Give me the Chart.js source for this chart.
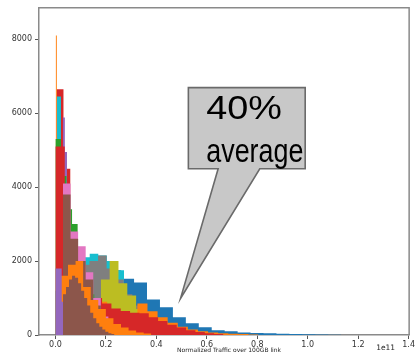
<!DOCTYPE html>
<html>
<head>
<meta charset="utf-8">
<script src="https://cdn.jsdelivr.net/npm/chart.js@4.4.0/dist/chart.umd.min.js"></script>
<style>
  html, body { margin: 0; padding: 0; background: #fff; }
  canvas { display: block; }
</style>
</head>
<body>
<canvas id="histChart" width="416" height="356"></canvas>
<script>
// histogram series, back to front (matplotlib draw order); x in units of 1e11
const seriesNames  = ['blue', 'spike', 'cyanA', 'gray', 'olive', 'orange1', 'red1', 'cyanN', 'purple', 'green', 'red2', 'pink', 'brown', 'orange2', 'purple2', 'brown2'];
const seriesColors = ['#1f77b4', '#ff7f0e', '#17becf', '#7f7f7f', '#bcbd22', '#ff7f0e', '#d62728', '#17becf', '#9467bd', '#2ca02c', '#d62728', '#e377c2', '#8c564b', '#ff7f0e', '#9467bd', '#8c564b'];
const binStarts = [0.004, 0.001, 0.0, 0.101, 0.18, 0.005, 0.005, 0.006, 0.029, 0.0, 0.0, 0.03, 0.03, 0.02, 0.0, 0.03];
const binWidths = [0.0513, 0.005, 0.034, 0.034, 0.035, 0.04, 0.027, 0.016, 0.0085, 0.022, 0.037, 0.03, 0.03, 0.03, 0.025, 0.012];

const blueCounts    = [500, 1350, 1800, 1900, 1750, 1520, 1420, 960, 750, 480, 320, 210, 130, 100, 70, 55, 45, 35, 28, 20, 15, 10];
const spikeCounts   = [8100];
const cyanACounts   = [1200, 1900, 2000, 2100, 2200, 2150, 2000, 1750, 1000, 700, 450, 280, 160, 90, 50, 25];
const grayCounts    = [1900, 2000, 2150, 1800, 1500, 1100, 800, 550, 350, 200, 100, 50];
const oliveCounts   = [1500, 2000, 1400, 1070, 700, 450, 250, 120, 60];
const orange1Counts = [1500, 1950, 1500, 950, 900, 700, 600, 550, 850, 640, 480, 330, 220, 150, 100, 70, 50, 35, 25, 15];
const red1Counts    = [6650, 4500, 3000, 2000, 1300, 900, 600, 400, 250, 150, 80, 40];
const cyanNCounts   = [6450, 3000, 1500, 700, 300];
const purpleCounts  = [5880, 4950, 4000, 3300, 2700, 2200, 1800, 1500, 1250, 1050, 900, 750, 620, 500, 400, 320, 250, 190, 140, 100, 70, 50, 30];
const greenCounts   = [5300, 4300, 3400, 3000, 2200, 1500, 1100, 900, 750, 650, 560, 500, 460, 420, 380, 340, 300, 270, 240, 200, 170, 140, 110, 90, 70, 50, 40, 30, 20];
const red2Counts    = [5100, 1300, 1100, 1000, 1000, 850, 720, 650, 600, 590, 480, 380, 280, 200, 130, 80, 50, 30];
const pinkCounts    = [4100, 2800, 2400, 1700, 1000, 500, 250, 100];
const brownCounts   = [3800, 2600, 2000, 1500, 800, 400, 200, 100];
const orange2Counts = [1600, 1900, 2000, 1300, 950, 700, 450, 300, 200, 120, 70, 40];
const purple2Counts = [1800, 900, 500, 300, 150, 80];
const brown2Counts  = [1100, 1300, 1500, 1600, 1550, 1400, 1200, 1000, 800, 600, 450, 320, 220, 150, 90, 50, 30];

const allCounts = [blueCounts, spikeCounts, cyanACounts, grayCounts, oliveCounts, orange1Counts, red1Counts, cyanNCounts, purpleCounts,
                   greenCounts, red2Counts, pinkCounts, brownCounts, orange2Counts, purple2Counts, brown2Counts];

const xTicks = [0.0, 0.2, 0.4, 0.6, 0.8, 1.0, 1.2, 1.4];
const yTicks = [0, 2000, 4000, 6000, 8000];
const xTitle = 'Normalized Traffic over 100GB link';
const xOffsetText = '1e11';
const calloutLines = ['40%', 'average'];

// callout geometry in data units
const calloutBox = { x0: 0.527, x1: 0.99, y0: 4495, y1: 6690 };
const calloutTail = { xa: 0.645, xb: 0.81, tipX: 0.496, tipY: 990 };
const calloutText = { x: 0.598, y1: 5833, y2: 4682, w1: 0.30, w2: 0.385 };

function histPoints(start, width, counts) {
  const pts = counts.map((c, i) => ({ x: start + i * width, y: c }));
  pts.push({ x: start + counts.length * width, y: 0 });
  return pts;
}

const datasets = allCounts.map((counts, i) => ({
  label: seriesNames[i],
  data: histPoints(binStarts[i], binWidths[i], counts),
  stepped: true,
  fill: 'origin',
  backgroundColor: seriesColors[i],
  borderWidth: 0,
  pointRadius: 0
}));
// chart.js paints the first dataset on top, matplotlib the last
datasets.reverse();

function fitText(ctx, text, x, y, width) {
  const natural = ctx.measureText(text).width;
  ctx.save();
  ctx.translate(x, y);
  ctx.scale(width / natural, 1);
  ctx.fillText(text, 0, 0);
  ctx.restore();
}

const extras = {
  id: 'extras',
  afterDraw(chart) {
    const { ctx, chartArea: a, scales: { x, y } } = chart;
    ctx.save();
    // top and right spines
    ctx.strokeStyle = '#8a8a8a';
    ctx.lineWidth = 1.5;
    ctx.beginPath();
    ctx.moveTo(a.left, a.top); ctx.lineTo(a.right, a.top); ctx.lineTo(a.right, a.bottom);
    ctx.stroke();

    // callout
    const bx0 = x.getPixelForValue(calloutBox.x0), bx1 = x.getPixelForValue(calloutBox.x1);
    const by0 = y.getPixelForValue(calloutBox.y1), by1 = y.getPixelForValue(calloutBox.y0);
    ctx.beginPath();
    ctx.moveTo(bx0, by0);
    ctx.lineTo(bx1, by0);
    ctx.lineTo(bx1, by1);
    ctx.lineTo(x.getPixelForValue(calloutTail.xb), by1);
    ctx.lineTo(x.getPixelForValue(calloutTail.tipX), y.getPixelForValue(calloutTail.tipY));
    ctx.lineTo(x.getPixelForValue(calloutTail.xa), by1);
    ctx.lineTo(bx0, by1);
    ctx.closePath();
    ctx.fillStyle = '#c8c8c8';
    ctx.fill();
    ctx.strokeStyle = '#6a6a6a';
    ctx.lineWidth = 1.6;
    ctx.stroke();

    ctx.fillStyle = '#000';
    ctx.font = '34px "Liberation Sans", Arial, sans-serif';
    ctx.textBaseline = 'alphabetic';
    ctx.textAlign = 'left';
    const tx = x.getPixelForValue(calloutText.x);
    const unit = x.getPixelForValue(1) - x.getPixelForValue(0);
    fitText(ctx, calloutLines[0], tx, y.getPixelForValue(calloutText.y1), calloutText.w1 * unit);
    fitText(ctx, calloutLines[1], tx, y.getPixelForValue(calloutText.y2), calloutText.w2 * unit);

    // axis title and offset text
    ctx.font = '6px "DejaVu Sans", sans-serif';
    ctx.fillStyle = '#222';
    ctx.textAlign = 'center';
    ctx.fillText(xTitle, (a.left + a.right) / 2 + 5, 352);
    ctx.font = '7.5px "DejaVu Sans", sans-serif';
    ctx.textAlign = 'right';
    ctx.fillText(xOffsetText, a.right - 14, 350);
    ctx.restore();
  }
};

const ctx = document.getElementById('histChart').getContext('2d');
const chart = new Chart(ctx, {
  type: 'line',
  data: { datasets: datasets },
  options: {
    responsive: false,
    animation: false,
    layout: { padding: { top: 4, right: 3, left: 0, bottom: 0 } },
    plugins: {
      legend: { display: false },
      tooltip: { enabled: false }
    },
    elements: { line: { tension: 0 } },
    scales: {
      x: {
        type: 'linear',
        min: -0.065,
        max: 1.402,
        afterBuildTicks: s => { s.ticks = xTicks.map(v => ({ value: v })); },
        afterFit: s => { s.height = 21; },
        ticks: {
          color: '#333',
          font: { family: 'DejaVu Sans', size: 8 },
          padding: 1,
          maxRotation: 0,
          callback: v => v.toFixed(1)
        },
        grid: { drawOnChartArea: false, tickLength: 4, color: '#555' },
        border: { color: '#8a8a8a', width: 1.5 }
      },
      y: {
        min: 0,
        max: 8850,
        afterBuildTicks: s => { s.ticks = yTicks.map(v => ({ value: v })); },
        afterFit: s => { s.width = 39; },
        ticks: {
          color: '#333',
          font: { family: 'DejaVu Sans', size: 8 },
          padding: 3,
          callback: v => String(v)
        },
        grid: { drawOnChartArea: false, tickLength: 4, color: '#555' },
        border: { color: '#8a8a8a', width: 1.5 }
      }
    }
  },
  plugins: [extras]
});
</script>
</body>
</html>
